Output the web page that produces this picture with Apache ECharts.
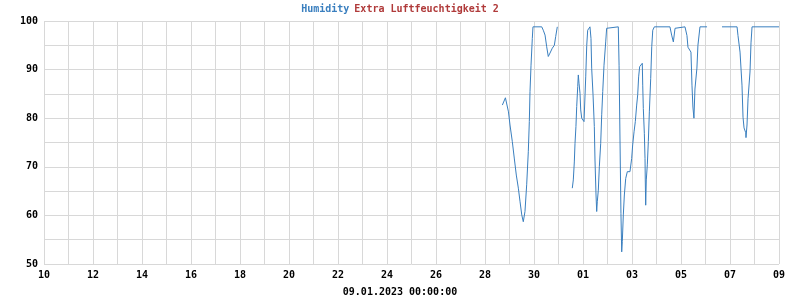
<!DOCTYPE html>
<html><head><meta charset="utf-8">
<script src="https://cdn.jsdelivr.net/npm/echarts@6/dist/echarts.min.js"></script>
<style>html,body{margin:0;padding:0;background:#fff}#c{width:800px;height:300px}</style>
</head><body><div id="c"></div>
<script>
var titleMain = "Humidity";
var titleSub = "Extra Luftfeuchtigkeit 2";
var footerText = "09.01.2023 00:00:00";
var xStart = "2022-12-10 00:00";
var xEnd = "2023-01-09 00:00";
var yTicks = [50, 60, 70, 80, 90, 100];
// times (null entry = gap in recording)
var times = [
"2022-12-28 17:00","2022-12-28 20:00","2022-12-28 23:00","2022-12-29 00:30","2022-12-29 02:45",
"2022-12-29 04:40","2022-12-29 06:40","2022-12-29 08:40","2022-12-29 10:20","2022-12-29 12:00",
"2022-12-29 13:30","2022-12-29 15:10","2022-12-29 16:50","2022-12-29 18:25","2022-12-29 19:25",
"2022-12-29 20:05","2022-12-29 21:05","2022-12-29 22:20","2022-12-29 23:00","2022-12-30 07:35",
"2022-12-30 09:05","2022-12-30 10:50","2022-12-30 12:25","2022-12-30 14:00","2022-12-30 15:40",
"2022-12-30 17:55","2022-12-30 19:55","2022-12-30 21:15","2022-12-30 22:50",
"2022-12-31 06:00",
"2022-12-31 13:30","2022-12-31 14:30","2022-12-31 15:30","2022-12-31 16:10","2022-12-31 17:05",
"2022-12-31 17:50","2022-12-31 18:50","2022-12-31 19:25","2022-12-31 20:05","2022-12-31 21:05",
"2022-12-31 21:45","2022-12-31 22:45","2023-01-01 00:20","2023-01-01 01:00","2023-01-01 02:00",
"2023-01-01 02:40","2023-01-01 03:40","2023-01-01 04:35","2023-01-01 05:55","2023-01-01 06:50",
"2023-01-01 07:50","2023-01-01 08:30","2023-01-01 09:50","2023-01-01 11:05","2023-01-01 11:45",
"2023-01-01 12:45","2023-01-01 13:25","2023-01-01 14:00","2023-01-01 15:00","2023-01-01 16:00",
"2023-01-01 17:20","2023-01-01 18:20","2023-01-01 19:20","2023-01-01 20:35","2023-01-01 22:15",
"2023-01-01 23:10","2023-01-02 00:50","2023-01-02 10:35","2023-01-02 11:20","2023-01-02 12:15",
"2023-01-02 13:10","2023-01-02 13:55","2023-01-02 14:30","2023-01-02 15:30","2023-01-02 16:30",
"2023-01-02 17:50","2023-01-02 19:25","2023-01-02 22:00","2023-01-02 23:40","2023-01-03 00:40",
"2023-01-03 02:00","2023-01-03 03:15","2023-01-03 04:35","2023-01-03 05:35","2023-01-03 06:30",
"2023-01-03 07:30","2023-01-03 08:50","2023-01-03 10:05","2023-01-03 10:30","2023-01-03 11:05",
"2023-01-03 12:05","2023-01-03 12:45","2023-01-03 13:00","2023-01-03 13:25","2023-01-03 14:00",
"2023-01-03 15:00","2023-01-03 16:00","2023-01-03 17:00","2023-01-03 18:20","2023-01-03 19:20",
"2023-01-03 20:20","2023-01-03 21:55","2023-01-04 13:10","2023-01-04 14:50","2023-01-04 16:30",
"2023-01-04 18:10","2023-01-04 19:05","2023-01-05 03:55","2023-01-05 05:50","2023-01-05 06:50",
"2023-01-05 09:45","2023-01-05 10:45","2023-01-05 11:40","2023-01-05 12:40","2023-01-05 13:40",
"2023-01-05 15:35","2023-01-05 16:35","2023-01-05 18:35","2023-01-06 01:30",
"2023-01-06 09:00",
"2023-01-06 16:10","2023-01-07 06:55","2023-01-07 07:50","2023-01-07 09:50","2023-01-07 11:45",
"2023-01-07 12:45","2023-01-07 13:45","2023-01-07 15:25","2023-01-07 15:40","2023-01-07 16:40",
"2023-01-07 17:40","2023-01-07 19:35","2023-01-07 20:35","2023-01-07 21:35","2023-01-09 00:00"
];
var humidity = [
82.7,84.2,81.3,78.6,75.2,
71.8,68.3,65.6,62.8,60.1,
58.7,60.8,66.3,73.1,79.3,
85.5,90.9,96.4,98.8,98.8,
98.1,97.1,94.7,92.7,93.4,
94.4,95,96.8,98.8,
null,
65.6,67.3,71,74.8,78.3,
82.4,86.5,88.9,87.2,85.1,
81.7,80,79.6,79.3,84.8,
88.5,95,98.1,98.5,98.8,
96.4,90.3,84.8,78.3,71.4,
64.2,60.8,62.8,65.2,70,
74.8,80.7,85.5,90.9,95.7,
98.5,98.8,98.8,90.9,75.5,
60.4,52.5,54.6,60.1,64.2,
67.6,69,69,71.7,74.5,
77.2,79.3,82.7,84.8,88.5,
90.6,90.9,91.3,86.8,82,
76.9,71.7,67.3,62.1,67.3,
70.4,75.2,81.3,88.2,94.7,
98.1,98.8,98.8,97.1,95.7,
98.5,98.8,98.8,97,94.6,
93.6,86.8,82.3,80,86,
90.3,95,98.8,98.8,
null,
98.8,98.8,97,93.6,86.8,
80.2,78,77,76,78.6,
84,89.5,95.5,98.8,98.8
];

function toMs(s){var p=s.split(/[- :]/);return Date.UTC(+p[0],+p[1]-1,+p[2],+p[3],+p[4]);}
function pad(n){return (n<10?'0':'')+n;}
var DAY = 86400000;
var seriesData = times.map(function(t,i){return [toMs(t), humidity[i]];});
var font = '"DejaVu Sans Mono", monospace';
var chart = echarts.init(document.getElementById('c'));
chart.setOption({
  animation:false,
  backgroundColor:'#ffffff',
  title:{
    text:'{a|'+titleMain+'} {b|'+titleSub+'}',
    left:'center', top:0, padding:0,
    textStyle:{rich:{
      a:{color:'#3a7fbf',fontFamily:font,fontWeight:'bold',fontSize:10},
      b:{color:'#b03a3a',fontFamily:font,fontWeight:'bold',fontSize:10}
    }}
  },
  grid:{left:44,right:21,top:21,bottom:36},
  xAxis:{
    type:'value', min:toMs(xStart), max:toMs(xEnd), interval:2*DAY,
    axisLine:{show:false}, axisTick:{show:false},
    axisLabel:{
      margin:6, color:'#000', fontFamily:font, fontWeight:'bold', fontSize:10,
      formatter:function(v){return pad(new Date(v).getUTCDate());}
    },
    splitLine:{show:true,lineStyle:{color:'#d8d8d8',width:1}},
    minorTick:{show:false,splitNumber:2},
    minorSplitLine:{show:true,lineStyle:{color:'#d8d8d8',width:1}}
  },
  yAxis:{
    type:'value', min:yTicks[0], max:yTicks[yTicks.length-1], interval:10,
    axisLine:{show:false}, axisTick:{show:false},
    axisLabel:{margin:6,color:'#000',fontFamily:font,fontWeight:'bold',fontSize:10},
    splitLine:{show:true,lineStyle:{color:'#d8d8d8',width:1}},
    minorTick:{show:false,splitNumber:2},
    minorSplitLine:{show:true,lineStyle:{color:'#d8d8d8',width:1}}
  },
  graphic:[{
    type:'text', left:'center', top:287,
    style:{text:footerText, fill:'#000', font:'bold 10px '+font}
  }],
  series:[{
    type:'line', data:seriesData, showSymbol:false, connectNulls:false,
    lineStyle:{color:'#3a7fbf',width:1}, itemStyle:{color:'#3a7fbf'}
  }]
});
</script></body></html>
